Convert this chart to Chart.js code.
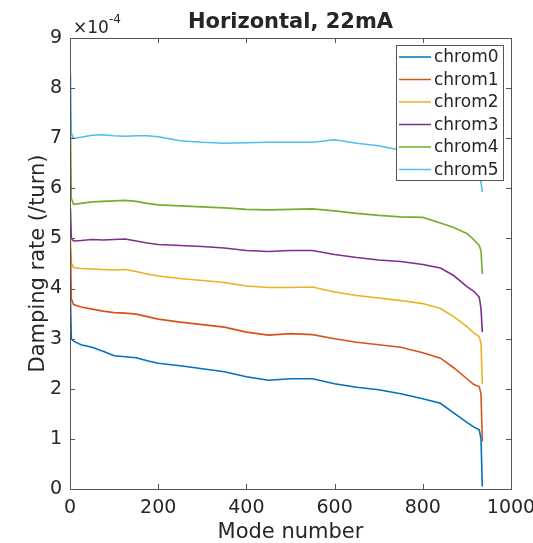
<!DOCTYPE html>
<html>
<head>
<meta charset="utf-8">
<script src="https://cdn.jsdelivr.net/npm/chart.js@4.4.0/dist/chart.umd.min.js"></script>
<style>
  html, body { margin: 0; padding: 0; background: #fff; }
</style>
</head>
<body>
<canvas id="chart" width="533" height="543"></canvas>
<script>
const modes = [1, 3, 8, 25, 50, 75, 100, 125, 150, 175, 200, 250, 300, 350, 400, 450, 500, 550, 600, 650, 700, 750, 800, 840, 870, 900, 915, 928, 932, 935];

// damping rate, in units of 1e-4 /turn
const chrom0 = [3.8, 3.0, 2.95, 2.88, 2.83, 2.75, 2.66, 2.64, 2.62, 2.56, 2.51, 2.46, 2.40, 2.34, 2.24, 2.17, 2.20, 2.20, 2.10, 2.03, 1.98, 1.90, 1.80, 1.71, 1.52, 1.33, 1.24, 1.18, 1.00, 0.05];
const chrom1 = [4.8, 3.8, 3.68, 3.63, 3.59, 3.55, 3.52, 3.51, 3.49, 3.44, 3.39, 3.33, 3.28, 3.23, 3.13, 3.07, 3.10, 3.08, 3.00, 2.93, 2.88, 2.83, 2.72, 2.61, 2.42, 2.20, 2.09, 2.04, 1.90, 0.95];
const chrom2 = [5.0, 4.5, 4.42, 4.40, 4.39, 4.38, 4.37, 4.38, 4.34, 4.29, 4.25, 4.20, 4.16, 4.12, 4.05, 4.02, 4.02, 4.03, 3.93, 3.86, 3.81, 3.76, 3.70, 3.60, 3.44, 3.24, 3.12, 3.04, 2.90, 2.10];
const chrom3 = [5.6, 5.0, 4.95, 4.96, 4.98, 4.97, 4.98, 4.99, 4.95, 4.91, 4.88, 4.86, 4.84, 4.81, 4.76, 4.74, 4.76, 4.76, 4.68, 4.62, 4.57, 4.54, 4.48, 4.41, 4.26, 4.04, 3.95, 3.83, 3.60, 3.13];
const chrom4 = [7.3, 5.8, 5.68, 5.70, 5.73, 5.74, 5.75, 5.76, 5.74, 5.70, 5.67, 5.65, 5.63, 5.61, 5.58, 5.57, 5.58, 5.59, 5.55, 5.50, 5.46, 5.43, 5.42, 5.31, 5.22, 5.10, 4.98, 4.86, 4.75, 4.29];
const chrom5 = [8.3, 7.1, 7.0, 7.02, 7.06, 7.07, 7.05, 7.04, 7.05, 7.05, 7.03, 6.95, 6.92, 6.90, 6.91, 6.92, 6.92, 6.92, 6.97, 6.90, 6.85, 6.76, 6.72, 6.66, 6.58, 6.45, 6.35, 6.20, 6.12, 5.93];

const seriesNames = ['chrom0', 'chrom1', 'chrom2', 'chrom3', 'chrom4', 'chrom5'];
const seriesValues = [chrom0, chrom1, chrom2, chrom3, chrom4, chrom5];
const seriesColors = ['#0072BD', '#D95319', '#EDB120', '#7E2F8E', '#77AC30', '#4DBEEE'];

const xTicks = [0, 200, 400, 600, 800, 1000];
const yTicks = [0, 1, 2, 3, 4, 5, 6, 7, 8, 9];

const textColor = '#262626';
const axisColor = '#555555';
const fontFamily = '"DejaVu Sans", sans-serif';

// frame, inward ticks, title, exponent and legend drawn like MATLAB
const matlabAxes = {
    id: 'matlabAxes',
    afterDatasetsDraw(chart) {
        const {ctx, chartArea: a, scales: {x, y}} = chart;
        ctx.save();
        ctx.strokeStyle = axisColor;
        ctx.lineWidth = 1;
        ctx.strokeRect(a.left + 0.5, a.top + 0.5, a.right - a.left, a.bottom - a.top);
        ctx.beginPath();
        xTicks.forEach(v => {
            const px = Math.round(x.getPixelForValue(v)) + 0.5;
            ctx.moveTo(px, a.bottom); ctx.lineTo(px, a.bottom - 5);
            ctx.moveTo(px, a.top); ctx.lineTo(px, a.top + 5);
        });
        yTicks.forEach(v => {
            const py = Math.round(y.getPixelForValue(v)) + 0.5;
            ctx.moveTo(a.left, py); ctx.lineTo(a.left + 5, py);
            ctx.moveTo(a.right, py); ctx.lineTo(a.right - 5, py);
        });
        ctx.stroke();

        ctx.fillStyle = textColor;
        ctx.font = 'bold 21px ' + fontFamily;
        ctx.textAlign = 'center';
        ctx.textBaseline = 'alphabetic';
        ctx.fillText('Horizontal, 22mA', (a.left + a.right) / 2, 28);

        ctx.textAlign = 'left';
        ctx.font = '17px ' + fontFamily;
        ctx.fillText('×10', a.left + 3, 33);
        const w = ctx.measureText('×10').width;
        ctx.font = '12px ' + fontFamily;
        ctx.fillText('-4', a.left + 3 + w, 23);
        ctx.restore();
    },
    afterDraw(chart) {
        const {ctx} = chart;
        const lx = 396, ly = 45, lw = 107, rowH = 22.5;
        ctx.save();
        ctx.fillStyle = '#ffffff';
        ctx.fillRect(lx, ly, lw, rowH * seriesNames.length);
        ctx.strokeStyle = axisColor;
        ctx.lineWidth = 1;
        ctx.strokeRect(lx + 0.5, ly + 0.5, lw, rowH * seriesNames.length);
        ctx.font = '17px ' + fontFamily;
        ctx.textAlign = 'left';
        ctx.textBaseline = 'middle';
        seriesNames.forEach((name, i) => {
            const cy = ly + rowH * i + 12;
            ctx.strokeStyle = seriesColors[i];
            ctx.lineWidth = 1.5;
            ctx.beginPath();
            ctx.moveTo(399, cy);
            ctx.lineTo(431, cy);
            ctx.stroke();
            ctx.fillStyle = textColor;
            ctx.fillText(name, 434, cy + 1);
        });
        ctx.restore();
    }
};

new Chart(document.getElementById('chart'), {
    type: 'line',
    data: {
        datasets: seriesNames.map((name, i) => ({
            label: name,
            data: modes.map((m, j) => ({x: m, y: seriesValues[i][j]})),
            borderColor: seriesColors[i],
            borderWidth: 1.6,
            pointRadius: 0,
            tension: 0
        }))
    },
    options: {
        responsive: false,
        animation: false,
        devicePixelRatio: 1,
        layout: {
            padding: {top: 38, right: 22, left: 0, bottom: 0}
        },
        plugins: {
            legend: {display: false},
            title: {display: false},
            tooltip: {enabled: false}
        },
        scales: {
            x: {
                type: 'linear',
                min: 0,
                max: 1000,
                afterFit: s => { s.height = 54; s.paddingLeft = 0; s.paddingRight = 0; },
                afterBuildTicks: s => { s.ticks = xTicks.map(v => ({value: v})); },
                grid: {display: false, drawTicks: false},
                border: {display: false},
                ticks: {
                    color: textColor,
                    font: {family: fontFamily, size: 19},
                    padding: 8,
                    maxRotation: 0,
                    autoSkip: false,
                    callback: v => String(v)
                },
                title: {
                    display: true,
                    text: 'Mode number',
                    color: textColor,
                    font: {family: fontFamily, size: 21, lineHeight: 1.0},
                    padding: {top: 0, bottom: 0}
                }
            },
            y: {
                type: 'linear',
                min: 0,
                max: 9,
                afterFit: s => { s.width = 70; s.paddingTop = 0; s.paddingBottom = 0; },
                afterBuildTicks: s => { s.ticks = yTicks.map(v => ({value: v})); },
                grid: {display: false, drawTicks: false},
                border: {display: false},
                ticks: {
                    color: textColor,
                    font: {family: fontFamily, size: 19},
                    padding: 8,
                    callback: v => String(v)
                },
                title: {
                    display: true,
                    text: 'Damping rate (/turn)',
                    color: textColor,
                    font: {family: fontFamily, size: 21},
                    padding: {top: 26, bottom: 0}
                }
            }
        }
    },
    plugins: [matlabAxes]
});
</script>
</body>
</html>
